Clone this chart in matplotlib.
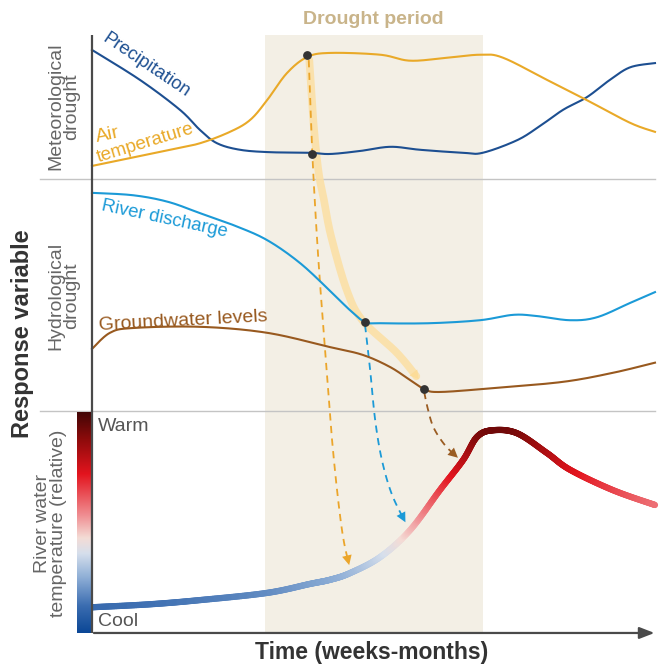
import numpy as np
import matplotlib
matplotlib.use("Agg")
import matplotlib.pyplot as plt
from matplotlib.collections import LineCollection
from matplotlib.colors import LinearSegmentedColormap

plt.rcParams['font.family'] = ['Liberation Sans', 'DejaVu Sans']

# ---------------- data (time 0-100, response 0-100) ----------------
precip_t = [0, 8.5, 15.6, 19.2, 22.2, 26.3, 31.6, 38.7, 42.3, 47.6, 53.0, 58.3, 65.9, 69.4, 75.5, 79.6, 83.7, 87.9, 92.0, 95.6, 100]
precip_r = [97.5, 92.5, 87.5, 84.1, 81.9, 80.8, 80.4, 80.3, 80.1, 80.6, 81.3, 80.8, 80.3, 80.3, 82.4, 84.8, 87.5, 89.6, 92.5, 94.6, 95.3]

air_t = [0, 6.7, 13.9, 19.2, 24.5, 28.1, 31.1, 34.6, 38.2, 42.3, 51.2, 56.5, 63.1, 69.0, 73.0, 80.8, 87.9, 95.6, 100]
air_r = [78.1, 79.4, 80.8, 81.9, 83.8, 85.8, 89.1, 93.6, 96.3, 97.0, 96.7, 95.7, 96.2, 96.7, 96.2, 92.5, 89.1, 85.3, 83.8]

river_t = [0, 7.3, 13.5, 19.2, 25.4, 31.1, 36.9, 42.3, 45.8, 48.5, 51.2, 60.0, 68.9, 74.8, 79.0, 84.9, 89.7, 95.6, 100]
river_r = [73.6, 73.2, 72.1, 70.2, 68.1, 65.7, 61.9, 57.2, 54.0, 52.0, 51.8, 51.8, 52.3, 53.2, 53.0, 52.3, 52.8, 55.2, 57.0]

gw_t = [0, 3.2, 7.3, 19.2, 31.1, 42.3, 48.1, 52.9, 56.5, 59.0, 61.8, 71.9, 83.7, 92.5, 100]
gw_r = [47.5, 50.2, 51.0, 51.2, 50.2, 47.8, 46.5, 44.5, 42.3, 40.8, 40.3, 41.0, 42.0, 43.5, 45.2]

wt_t = [0, 10.3, 19.2, 31.1, 38.7, 42.3, 45.8, 51.2, 56.5, 61.8, 65.9, 68.4, 71.2, 75.5, 80.8, 84.9, 92.5, 100]
wt_r = [4.3, 4.8, 5.5, 6.7, 8.2, 8.9, 10.0, 12.7, 17.2, 23.9, 28.9, 32.8, 33.9, 33.4, 30.1, 27.3, 23.9, 21.4]
wt_max = 36.8

drought_start, drought_end = 30.7, 69.4
separators = [75.9, 37.1]

dots_t = [38.2, 39.1, 48.5, 59.0]
dots_r = [96.7, 80.1, 52.0, 40.8]

arrow_air_t = [38.5, 39.1, 40.1, 41.4, 42.8, 44.4, 45.8]
arrow_air_r = [95.8, 80.8, 64.0, 47.3, 30.6, 17.2, 10.9]
arrow_riv_t = [48.5, 49.4, 50.3, 51.5, 53.3, 55.9]
arrow_riv_r = [51.5, 44.0, 35.6, 28.9, 23.1, 18.1]
arrow_gw_t = [59.0, 59.7, 60.7, 62.7, 65.0]
arrow_gw_r = [40.3, 37.3, 34.3, 31.4, 29.3]
prop_t = [38.6, 39.3, 40.2, 41.2, 42.5, 45.3, 48.1, 54.2, 58.3]
prop_r = [95.8, 85.8, 77.4, 72.4, 66.2, 57.2, 52.2, 46.8, 42.1]

C_PRE = '#1d4f91'
C_AIR = '#e9a928'
C_RIV = '#1b9ad7'
C_GW = '#98591f'
C_GRAY = '#666666'
C_TAN = '#c9b48a'


def smooth(x, y, n=24):
    pts = np.column_stack([x, y]).astype(float)
    P = np.vstack([pts[0], pts, pts[-1]])
    out = []
    s = np.linspace(0, 1, n, endpoint=False)[:, None]
    for i in range(1, len(P) - 2):
        p0, p1, p2, p3 = P[i - 1], P[i], P[i + 1], P[i + 2]
        out.append(0.5 * ((2 * p1) + (-p0 + p2) * s + (2 * p0 - 5 * p1 + 4 * p2 - p3) * s ** 2
                          + (-p0 + 3 * p1 - 3 * p2 + p3) * s ** 3))
    out.append(P[-2][None])
    a = np.vstack(out)
    return a[:, 0], a[:, 1]


fig = plt.figure(figsize=(6.6, 6.67), dpi=100)
ax = fig.add_axes([0, 0, 1, 1])
ax.set_xlim(-16.34, 100.89)
ax.set_ylim(-5.69, 105.85)
ax.axis('off')

# drought shading
ax.axvspan(drought_start, drought_end, ymin=(0 + 5.69) / 111.54, ymax=(100 + 5.69) / 111.54,
           color='#f3efe5', zorder=0, lw=0)
ax.text((drought_start + drought_end) / 2, 102.6, 'Drought period', color=C_TAN,
        fontsize=14, fontweight='bold', ha='center', va='center')

# separators
for s in separators:
    ax.plot([-9.2, 100], [s, s], color='#c4c4c4', lw=1.0, zorder=1)

# axes
ax.plot([0, 0], [0, 100], color='#4a4a4a', lw=1.6, zorder=6, solid_capstyle='butt')
ax.annotate('', xy=(100.4, 0), xytext=(-0.15, 0),
            arrowprops=dict(arrowstyle='-|>,head_length=0.9,head_width=0.35', color='#4a4a4a', lw=1.6),
            zorder=6)

# propagation (thick pale arrow)
px, py = smooth(prop_t, prop_r)
ax.plot(px[:-6], py[:-6], color='#fcdfa2', lw=5.5, alpha=0.85, zorder=2, solid_capstyle='round')
ax.annotate('', xy=(px[-1], py[-1]), xytext=(px[-8], py[-8]),
            arrowprops=dict(arrowstyle='-|>,head_length=0.6,head_width=0.35', color='#fcdc98', lw=0),
            zorder=2)

# curves
for t, r, c in [(precip_t, precip_r, C_PRE), (air_t, air_r, C_AIR),
                (river_t, river_r, C_RIV), (gw_t, gw_r, C_GW)]:
    sx, sy = smooth(t, r)
    ax.plot(sx, sy, color=c, lw=1.5, zorder=4)

# dashed arrows
for t, r, c in [(arrow_air_t, arrow_air_r, '#eba52a'), (arrow_riv_t, arrow_riv_r, '#1b9ad7'),
                (arrow_gw_t, arrow_gw_r, '#9a5c22')]:
    sx, sy = smooth(t, r)
    ax.plot(sx[:-8], sy[:-8], color=c, lw=1.3, ls=(0, (4, 3)), zorder=3)
    ax.annotate('', xy=(sx[-1], sy[-1]), xytext=(sx[-10], sy[-10]),
                arrowprops=dict(arrowstyle='-|>,head_length=0.7,head_width=0.35', color=c, lw=0),
                zorder=5)

# dots
ax.scatter(dots_t, dots_r, s=28, color='#333333', zorder=7)

# water temperature gradient line
cmap = LinearSegmentedColormap.from_list('wt', [
    (0.0, '#0b4796'), (0.12, '#3a6cb0'), (0.25, '#8eaed6'), (0.36, '#d6dfec'),
    (0.43, '#f4dcd6'), (0.53, '#f09094'), (0.72, '#e3141e'), (0.88, '#8c0b0b'), (1.0, '#420606')])
wx, wy = smooth(wt_t, wt_r, n=40)
segs = np.stack([np.column_stack([wx[:-1], wy[:-1]]), np.column_stack([wx[1:], wy[1:]])], axis=1)
lc = LineCollection(segs, colors=cmap(((wy[:-1] + wy[1:]) / 2) / wt_max), linewidths=4.5,
                    capstyle='round', zorder=4)
ax.add_collection(lc)

# colour bar
grad = np.linspace(1, 0, 256)[:, None]
ax.imshow(grad, cmap=cmap, extent=[-2.7, -0.2, 0, wt_max], aspect='auto', zorder=5, vmin=0, vmax=1)
ax.set_xlim(-16.34, 100.89)
ax.set_ylim(-5.69, 105.85)
ax.text(1.0, 34.6, 'Warm', color='#555555', fontsize=14, ha='left', va='center')
ax.text(1.0, 2.0, 'Cool', color='#555555', fontsize=14, ha='left', va='center')

# curve labels
ax.text(9.6, 95.0, 'Precipitation', color=C_PRE, fontsize=13.3, rotation=-34,
        ha='center', va='center', rotation_mode='anchor')
ax.text(0.8, 82.8, 'Air', color=C_AIR, fontsize=14, rotation=12,
        ha='left', va='center', rotation_mode='anchor')
ax.text(1.0, 79.5, 'temperature', color=C_AIR, fontsize=13.5, rotation=17,
        ha='left', va='center', rotation_mode='anchor')
ax.text(12.9, 69.3, 'River discharge', color=C_RIV, fontsize=13.3, rotation=-12,
        ha='center', va='center', rotation_mode='anchor')
ax.text(16.2, 52.2, 'Groundwater levels', color=C_GW, fontsize=14, rotation=3,
        ha='center', va='center', rotation_mode='anchor')

# section labels
ax.text(-5.0, 88.0, 'Meteorological\ndrought', color=C_GRAY, fontsize=14, rotation=90,
        ha='center', va='center', multialignment='center', linespacing=0.95)
ax.text(-5.0, 56.4, 'Hydrological\ndrought', color=C_GRAY, fontsize=14, rotation=90,
        ha='center', va='center', multialignment='center', linespacing=0.95)
ax.text(-7.4, 18.4, 'River water\ntemperature (relative)', color=C_GRAY, fontsize=14, rotation=90,
        ha='center', va='center', multialignment='center', linespacing=0.95)
ax.text(-12.4, 50.0, 'Response variable', color='#333333', fontsize=17, fontweight='bold',
        rotation=90, ha='center', va='center')
ax.text(49.6, -3.3, 'Time (weeks-months)', color='#333333', fontsize=16.5, fontweight='bold',
        ha='center', va='center')

fig.savefig('out.png', dpi=100)
